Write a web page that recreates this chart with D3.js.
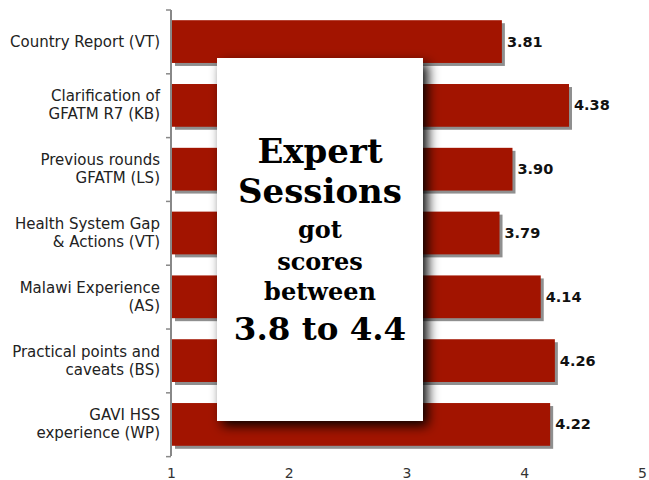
<!DOCTYPE html>
<html>
<head>
<meta charset="utf-8">
<script src="https://cdn.jsdelivr.net/npm/d3@7"></script>
<style>
  html, body { margin: 0; padding: 0; background: #fff; }
  svg { display: block; }
  .cat text { font-family: "DejaVu Sans", Verdana, sans-serif; font-size: 15px; fill: #222; }
  .val { font-family: "DejaVu Sans", Verdana, sans-serif; font-size: 14.5px; font-weight: bold; fill: #111; }
  .xaxis text { font-family: "DejaVu Sans", Verdana, sans-serif; font-size: 14px; fill: #333; }
  .note { font-family: "DejaVu Serif", "Liberation Serif", serif; font-weight: bold; fill: #000; }
</style>
</head>
<body>
<div id="chart"></div>
<script>
// sessions, top to bottom
var sessions = [
  "Country Report (VT)",
  "Clarification of\nGFATM R7 (KB)",
  "Previous rounds\nGFATM (LS)",
  "Health System Gap\n& Actions (VT)",
  "Malawi Experience\n(AS)",
  "Practical points and\ncaveats (BS)",
  "GAVI HSS\nexperience (WP)"
];
var scores = [3.81, 4.38, 3.90, 3.79, 4.14, 4.26, 4.22];
var xTicks = [1, 2, 3, 4, 5];
var noteLines = ["Expert", "Sessions", "got", "scores", "between", "3.8 to 4.4"];

var width = 649,
    height = 480,
    margin = {top: 10, right: 7, bottom: 24, left: 171};

var svg = d3.select("#chart").append("svg")
    .attr("width", width)
    .attr("height", height);

var defs = svg.append("defs");
defs.append("filter")
    .attr("id", "boxShadow")
    .attr("x", "-20%").attr("y", "-20%")
    .attr("width", "150%").attr("height", "150%")
  .append("feDropShadow")
    .attr("dx", 5).attr("dy", 5)
    .attr("stdDeviation", 6)
    .attr("flood-color", "#000")
    .attr("flood-opacity", 0.95);

var x = d3.scaleLinear()
    .domain([1, 5])
    .range([margin.left, width - margin.right]);

var y = d3.scaleBand()
    .domain(sessions)
    .range([margin.top, height - margin.bottom])
    .paddingInner(0.33)
    .paddingOuter(0.16);

// bar shadows
svg.append("g").selectAll("rect")
    .data(scores)
  .enter().append("rect")
    .attr("x", x(1) + 4)
    .attr("y", function(d, i) { return y(sessions[i]) + 3; })
    .attr("width", function(d) { return x(d) - x(1) - 1; })
    .attr("height", y.bandwidth())
    .attr("fill", "#8f8f8f");

// bars
svg.append("g").selectAll("rect")
    .data(scores)
  .enter().append("rect")
    .attr("x", x(1) + 1)
    .attr("y", function(d, i) { return y(sessions[i]); })
    .attr("width", function(d) { return x(d) - x(1) - 1; })
    .attr("height", y.bandwidth())
    .attr("fill", "#a21400");

// value labels
svg.append("g").selectAll("text")
    .data(scores)
  .enter().append("text")
    .attr("class", "val")
    .attr("x", function(d) { return x(d) + 5; })
    .attr("y", function(d, i) { return y(sessions[i]) + y.bandwidth() / 2 + 5; })
    .text(function(d) { return d.toFixed(2); });

// category axis
var step = y.step();
var catAxis = svg.append("g").attr("class", "cat");
catAxis.append("line")
    .attr("x1", margin.left).attr("x2", margin.left)
    .attr("y1", margin.top).attr("y2", height - margin.bottom)
    .attr("stroke", "#888").attr("stroke-width", 2);
catAxis.selectAll("line.tick")
    .data(d3.range(sessions.length + 1))
  .enter().append("line")
    .attr("class", "tick")
    .attr("x1", margin.left - 5).attr("x2", margin.left)
    .attr("y1", function(i) { return margin.top + i * step; })
    .attr("y2", function(i) { return margin.top + i * step; })
    .attr("stroke", "#888").attr("stroke-width", 1.5);

catAxis.selectAll("text")
    .data(sessions)
  .enter().append("text")
    .attr("text-anchor", "end")
    .attr("x", margin.left - 11)
    .attr("y", function(d) { return y(d) + y.bandwidth() / 2; })
    .each(function(d) {
      var lines = d.split("\n");
      var t = d3.select(this);
      var y0 = lines.length === 1 ? 5 : -4;
      lines.forEach(function(l, k) {
        t.append("tspan")
          .attr("x", margin.left - 11)
          .attr("dy", k === 0 ? y0 : 18)
          .text(l);
      });
    });

// x axis labels (no axis line), right at the bottom edge
var xAxis = svg.append("g")
    .attr("class", "xaxis")
    .attr("transform", "translate(0," + (height - 2) + ")")
    .call(d3.axisBottom(x).tickValues(xTicks).tickFormat(d3.format("d")).tickSize(0).tickPadding(0));
xAxis.select(".domain").remove();
xAxis.selectAll("text").attr("dy", null).attr("y", 0);

// callout box
var box = {x0: 217, y0: 58, x1: 423, y1: 421};
svg.append("rect")
    .attr("x", box.x0).attr("y", box.y0)
    .attr("width", box.x1 - box.x0)
    .attr("height", box.y1 - box.y0)
    .attr("fill", "#fff")
    .attr("filter", "url(#boxShadow)");

var noteSize = [34, 34, 24, 24, 24, 32.5];
var noteBase = [163, 203, 238, 270, 300, 340];
var cx = (box.x0 + box.x1) / 2;
svg.append("g").selectAll("text")
    .data(noteLines)
  .enter().append("text")
    .attr("class", "note")
    .attr("text-anchor", "middle")
    .attr("x", cx)
    .attr("y", function(d, i) { return noteBase[i]; })
    .style("font-size", function(d, i) { return noteSize[i] + "px"; })
    .text(function(d) { return d; });
</script>
</body>
</html>
